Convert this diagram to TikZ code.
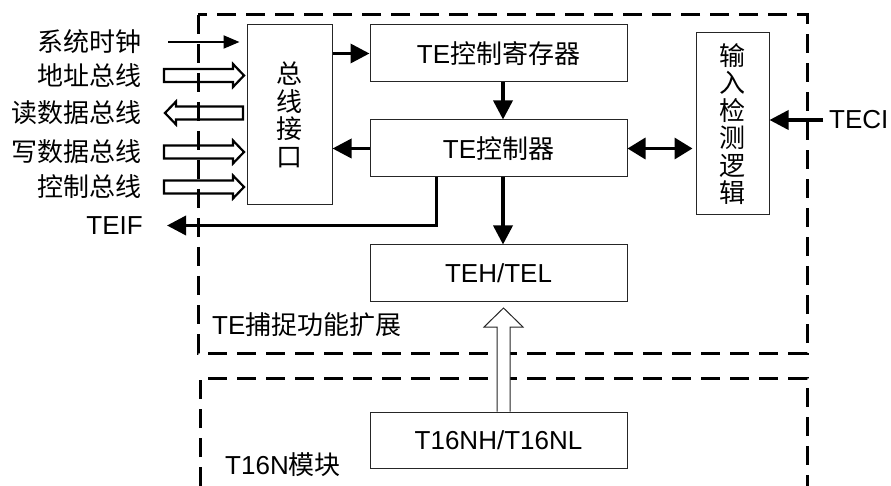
\documentclass[tikz,border=0pt]{standalone}
\usepackage{fontspec}
\setmainfont{Liberation Sans}
\newfontfamily\cjk{Noto Sans CJK SC}
\usetikzlibrary{arrows.meta,calc}
\begin{document}
\begin{tikzpicture}[x=1pt,y=-1pt,
  box/.style={draw=black!85,line width=1pt,inner sep=0pt,
    font=\fontsize{26}{27.5}\selectfont},
  vbox/.style={box,align=center,font=\cjk\fontsize{26}{27.5}\selectfont},
  lbl/.style={inner sep=0pt,font=\fontsize{26}{28}\selectfont},
  cjklbl/.style={lbl,font=\cjk\fontsize{26}{28}\selectfont},
  fat/.style={line width=3.5pt,-{Triangle[length=19pt,width=19pt]}},
  fatboth/.style={line width=3.5pt,{Triangle[length=18pt,width=21pt]}-{Triangle[length=18pt,width=21pt]}},
  clkarrow/.style={line width=2pt,-{Triangle[length=16pt,width=13pt]}},
  busedge/.style={draw,fill=white,line width=2.2pt,line join=miter},
  dashedbox/.style={line width=3pt,dash pattern=on 19pt off 10pt},
  hollowR/.pic={\path[busedge] (0,-6.5) -- ++(69,0) -- ++(0,-5) -- ++(11,11.5)
      -- ++(-11,11.5) -- ++(0,-5) -- ++(-69,0) -- cycle;},
  hollowL/.pic={\path[busedge] (0,-6.5) -- ++(-67,0) -- ++(0,-5) -- ++(-11,11.5)
      -- ++(11,11.5) -- ++(0,-5) -- ++(67,0) -- cycle;}
]
\useasboundingbox (0,0) rectangle (891,486);

% blocks
\node[vbox,minimum width=85pt,minimum height=180pt] (bus) at (289.5,115) {总\\线\\接\\口};
\node[box,minimum width=257pt,minimum height=57pt] (reg) at (498.5,53.5) {TE{\cjk 控制寄存器}};
\node[box,minimum width=257pt,minimum height=57pt] (ctrl) at (498.5,148.5) {TE{\cjk 控制器}};
\node[box,minimum width=257pt,minimum height=56pt] (teh) at (498.5,273) {TEH/TEL};
\node[box,minimum width=257pt,minimum height=56pt] (t16) at (498.5,440) {T16NH/T16NL};
\node[vbox,minimum width=73pt,minimum height=182pt] (inbox) at (732.5,124) {输\\入\\检\\测\\逻\\辑};

% outside signals
\node[cjklbl,anchor=east] (clk) at (142,42) {系统时钟};
\node[cjklbl,anchor=east] (addr) at (142,75.5) {地址总线};
\node[cjklbl,anchor=east] (rd) at (142,113) {读数据总线};
\node[cjklbl,anchor=east] (wr) at (142,152) {写数据总线};
\node[cjklbl,anchor=east] (cbus) at (142,187) {控制总线};
\node[lbl,anchor=east] (teif) at (143,225.5) {TEIF};
\node[lbl,anchor=west] (teci) at (829,120) {TECI};
\node[lbl,anchor=west] (capt) at (212,325) {TE{\cjk 捕捉功能扩展}};
\node[lbl,anchor=west] (mod) at (225,465) {T16N{\cjk 模块}};

\coordinate (clkin) at (168,42);
\coordinate (teifend) at (167,225.5);
\coordinate (teciin) at (823,120);

% bus side
\draw[clkarrow,shorten >=7pt] (clkin) -- (clkin -| bus.west);
\pic at (164,75.5) {hollowR};
\pic at (243,113) {hollowL};
\pic at (164,152) {hollowR};
\pic at (164,187) {hollowR};

% internal connections
\draw[fat] (bus.east |- reg.west) -- (reg.west);
\draw[fat] ([xshift=4.5pt]reg.south) -- ([xshift=4.5pt]ctrl.north);
\draw[fat] (ctrl.west) -- (ctrl.west -| bus.east);
\draw[fat] ([xshift=4.5pt]ctrl.south) -- ([xshift=4.5pt]teh.north);
\draw[fat] ([xshift=67pt]ctrl.south west) |- (teifend);
\draw[fatboth,shorten >=3pt] (ctrl.east) -- (ctrl.east -| inbox.west);
\draw[fat] (teciin) -- (teciin -| inbox.east);

% module boundaries
\draw[dashedbox] (198,15) rectangle (807,353);
\draw[dashedbox] (200,486) -- (200,378) -- (807,378) -- (807,486);

% wide transfer arrow T16N -> TEH/TEL
\filldraw[fill=white,draw=black!85,line width=1pt]
  ([xshift=-1.5pt]t16.north) -- (497,327) -- (484,327) -- (503.5,308)
  -- (523,327) -- (510,327) -- ([xshift=11.5pt]t16.north);
\end{tikzpicture}
\end{document}
